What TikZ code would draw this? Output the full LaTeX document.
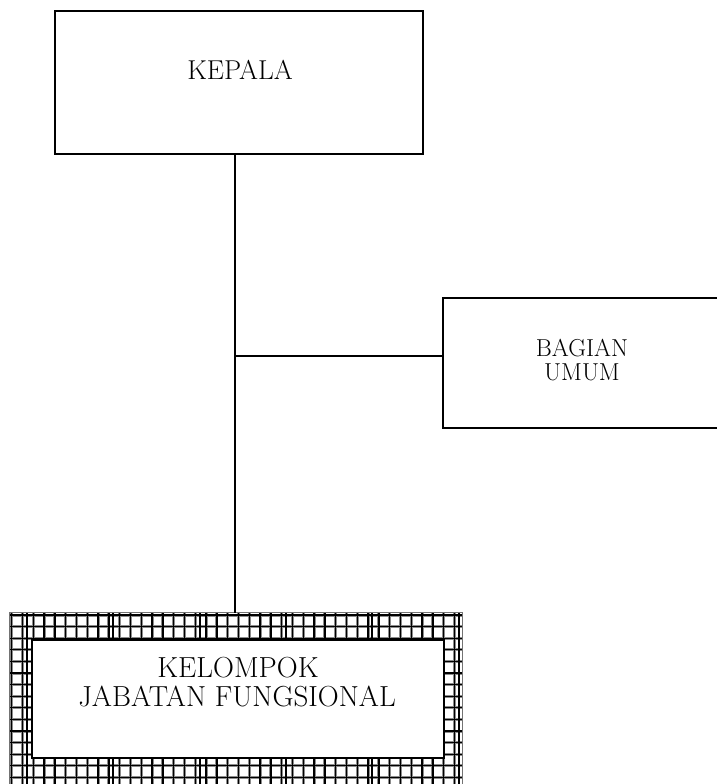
\documentclass[tikz,border=0pt]{standalone}
\begin{document}
\begin{tikzpicture}[x=1pt,y=-1pt,
  box/.style={draw=black,line width=2pt,fill=white,inner sep=0pt},
  link/.style={draw=black,line width=2pt},
  label/.style={inner sep=0pt,anchor=base},
  halo/.style={draw=black!45,line width=3pt},
  wire/.style={draw=black,line width=1.3pt},
  heavy/.style={draw=black,line width=2pt}]
% canvas
\clip (0,0) rectangle (717,784);
\fill[white] (0,0) rectangle (717,784);

% head box
\node[box,minimum width=368pt,minimum height=143pt] (kepala) at (239,82.5) {};
\node[label,font=\fontsize{27.3}{30}\selectfont] (kepalatext) at (240,80) {KEPALA};

% general affairs box (runs off the right edge)
\node[box,minimum width=290pt,minimum height=130pt] (bagian) at (588,363) {};
\node[label,font=\fontsize{24.5}{27}\selectfont] (bagiantext1) at (582,356) {BAGIAN};
\node[label,font=\fontsize{24.5}{27}\selectfont] (bagiantext2) at (582,380) {UMUM};

% decorative lattice frame
\node[inner sep=0pt,minimum width=452pt,minimum height=190pt] (frame) at (236,708) {};
\begin{scope}
  \clip (frame.north west) rectangle (frame.south east);
  \foreach \i in {0,...,42} \draw[halo] ({11.7+10.8*\i},600) -- ++(0,200);
  \foreach \j in {0,...,15} \draw[halo] (0,{615+11.6*\j}) -- ++(480,0);
  \foreach \i in {0,...,42} \draw[wire] ({11.7+10.8*\i},600) -- ++(0,200);
  \foreach \j in {0,...,15} \draw[wire] (0,{615+11.6*\j}) -- ++(480,0);
  \foreach \i in {1,...,5} \draw[heavy] ({26.7+86.4*\i},600) -- ++(0,200);
  \draw[heavy] (26.7,600) -- ++(0,200);
\end{scope}
\draw[black!55,line width=1.2pt] (frame.south west) -- (frame.north west) -- (frame.north east) -- (frame.south east);

% functional group box
\node[box,minimum width=412pt,minimum height=118pt] (kjf) at (238,699) {};
\node[label,font=\fontsize{29}{32}\selectfont] (kjftext1) at (238,677) {KELOMPOK};
\node[label,font=\fontsize{29}{32}\selectfont] (kjftext2) at (237,706) {JABATAN FUNGSIONAL};

% connectors
\coordinate (junction) at (235,356);
\draw[link] (junction |- kepala.south) -- (junction |- frame.north);
\draw[link] (junction) -- (junction -| bagian.west);
\end{tikzpicture}
\end{document}
